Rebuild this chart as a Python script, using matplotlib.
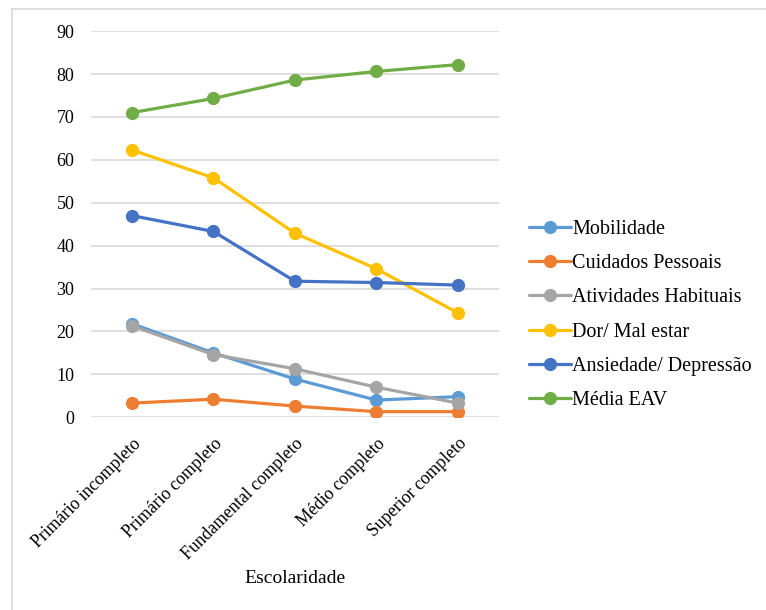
import matplotlib

matplotlib.use("Agg")
import matplotlib.pyplot as plt
from matplotlib.lines import Line2D

plt.rcParams["font.family"] = ["Liberation Serif", "DejaVu Serif"]

# Education levels on the x axis
escolaridade = [
    "Primário incompleto",
    "Primário completo",
    "Fundamental completo",
    "Médio completo",
    "Superior completo",
]

# Series values per education level
mobilidade = [21.8, 15.0, 8.9, 4.0, 4.8]
cuidados_pessoais = [3.3, 4.2, 2.6, 1.3, 1.3]
atividades_habituais = [21.3, 14.6, 11.3, 7.0, 3.3]
dor_mal_estar = [62.3, 55.8, 42.9, 34.6, 24.3]
ansiedade_depressao = [47.0, 43.3, 31.7, 31.4, 30.8]
media_eav = [71.0, 74.3, 78.6, 80.6, 82.2]

series = [
    ("Mobilidade", mobilidade, "#5B9BD5"),
    ("Cuidados Pessoais", cuidados_pessoais, "#ED7D31"),
    ("Atividades Habituais", atividades_habituais, "#A5A5A5"),
    ("Dor/ Mal estar", dor_mal_estar, "#FFC000"),
    ("Ansiedade/ Depressão", ansiedade_depressao, "#4472C4"),
    ("Média EAV", media_eav, "#70AD47"),
]

fig = plt.figure(figsize=(7.66, 6.10), dpi=100)
ax = fig.add_axes([0.119, 0.316, 0.532, 0.633])

x = list(range(len(escolaridade)))
for name, vals, color in series:
    ax.plot(x, vals, color=color, lw=2.3, marker="o", ms=8.5, label=name,
            solid_capstyle="round")

ax.set_xlim(-0.5, len(escolaridade) - 0.5)
ax.set_ylim(0, 90)
ax.set_yticks(range(0, 91, 10))
ax.grid(axis="y", color="#D9D9D9", lw=1.2)
ax.set_axisbelow(True)
for s in ax.spines.values():
    s.set_visible(False)
ax.tick_params(axis="both", length=0, colors="black")
ax.tick_params(axis="y", pad=12, labelsize=13)
ax.tick_params(axis="x", pad=13)
ax.set_xticks(x)
ax.set_xticklabels(escolaridade, rotation=45, ha="right", rotation_mode="anchor",
                   fontsize=12.8)
ax.set_xlabel("Escolaridade", fontsize=14, labelpad=5)

ax.legend(loc="center left", bbox_to_anchor=(1.03, 0.265), frameon=False,
          fontsize=14.5, handlelength=2.1, handletextpad=0.05, labelspacing=0.75)

# Light chart-area frame along the top and left
fig.add_artist(Line2D([12 / 766, 1.0], [1 - 9 / 610, 1 - 9 / 610],
                      transform=fig.transFigure, color="#D9D9D9", lw=1.2))
fig.add_artist(Line2D([12 / 766, 12 / 766], [0.0, 1 - 9 / 610],
                      transform=fig.transFigure, color="#D9D9D9", lw=1.2))

fig.savefig("out.png", dpi=100)
